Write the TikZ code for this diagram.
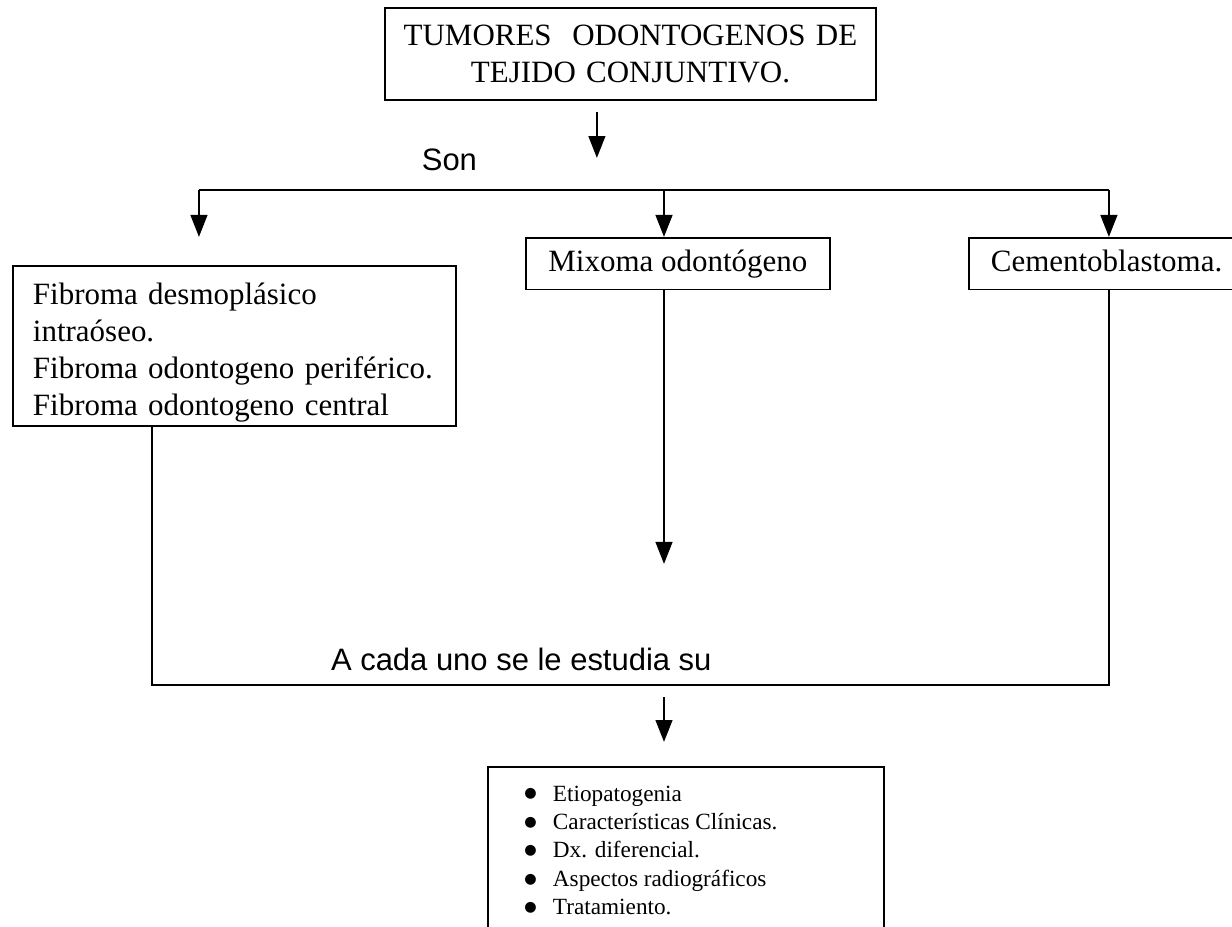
\documentclass[tikz,border=0pt]{standalone}
\usepackage{fontspec}
\setmainfont{Liberation Serif}
\setsansfont{Liberation Sans}
\newfontfamily\bulfont{DejaVu Sans}
\usepackage{tikz}
\usetikzlibrary{arrows.meta, positioning}
\newcommand\bul{\raisebox{1.2pt}{\bulfont\fontsize{5.5}{6}\selectfont ●}}

\begin{document}
\begin{tikzpicture}[x=1pt, y=-1pt, line width=0.75pt,
  >={Triangle[length=8.5pt,width=6.5pt]},
  caja/.style={draw, inner ysep=0pt, font=\fontsize{12}{14.4}\selectfont},
  rot/.style={font=\sffamily\fontsize{12}{14}\selectfont, anchor=base west, inner sep=0pt}]
\path[use as bounding box, fill=white] (0,0) rectangle (477.4,359.2);
\clip (0,0) rectangle (477.4,359.2);

% cajas
\node[caja, anchor=north west, text width=176pt, inner xsep=7.15pt, minimum height=35.7pt, align=center] (tit) at (148.8,2.7) {TUMORES\ \ ODONTOGENOS DE\\TEJIDO CONJUNTIVO.};
\node[caja, anchor=north west, text width=156.2pt, inner xsep=7.75pt, minimum height=62pt, align=left] (fib) at (4.65,102.7) {\rule{0pt}{13.5pt}Fibroma desmopl\'asico\\intra\'oseo.\\Fibroma odontogeno perif\'erico.\\Fibroma odontogeno central};
\node[caja, anchor=north west, minimum width=117.8pt, minimum height=20pt, text height=9pt, text depth=3pt] (mix) at (203.4,91.8) {Mixoma odont\'ogeno};
\node[caja, anchor=north west, inner xsep=8.5pt, text width=100pt, align=left, minimum height=20pt, text height=9pt, text depth=3pt] (cem) at (375.1,91.8) {Cementoblastoma.};
\node[draw, anchor=north west, minimum width=153.5pt, minimum height=75pt] (lis) at (188.7,296.8) {};
\node[anchor=base west, inner sep=0pt, font=\fontsize{9}{11}\selectfont] (items) at (202.8,310.4) {%
  \begin{tabular}[t]{@{}l@{\hspace{6.3pt}}l@{}}
  \bul & Etiopatogenia\\
  \bul & Caracter\'isticas Cl\'inicas.\\
  \bul & Dx. diferencial.\\
  \bul & Aspectos radiogr\'aficos\\
  \bul & Tratamiento.
  \end{tabular}};

% rotulos
\node[rot] (son) at (163.1,65.9) {Son};
\node[rot] (cada) at (127.9,260.0) {A cada uno se le estudia su};

% flechas
\coordinate (a0) at (231.3,43.4);
\coordinate (a1) at (231.3,61.2);
\draw[->] (a0) -- (a1);
\coordinate (r1) at (77.1,73.6);
\coordinate (r2) at (257.3,73.6);
\coordinate (r3) at (429.7,73.6);
\draw (r1) -- (r3);
\draw[->] (r1) -- ++(0,18.2);
\draw[->] (r2) -- (r2 |- mix.north);
\draw[->] (r3) -- (r3 |- cem.north);
\coordinate (p1) at (257.3,218.5);
\draw[->] (r2 |- mix.south) -- (p1);
\coordinate (q1) at (58.9,265.4);
\coordinate (q2) at (429.7,265.4);
\draw (q1 |- fib.south) -- (q1) -- (q2) -- (q2 |- cem.south);
\coordinate (b0) at (257.3,270.1);
\coordinate (b1) at (257.3,287.5);
\draw[->] (b0) -- (b1);
\end{tikzpicture}
\end{document}
